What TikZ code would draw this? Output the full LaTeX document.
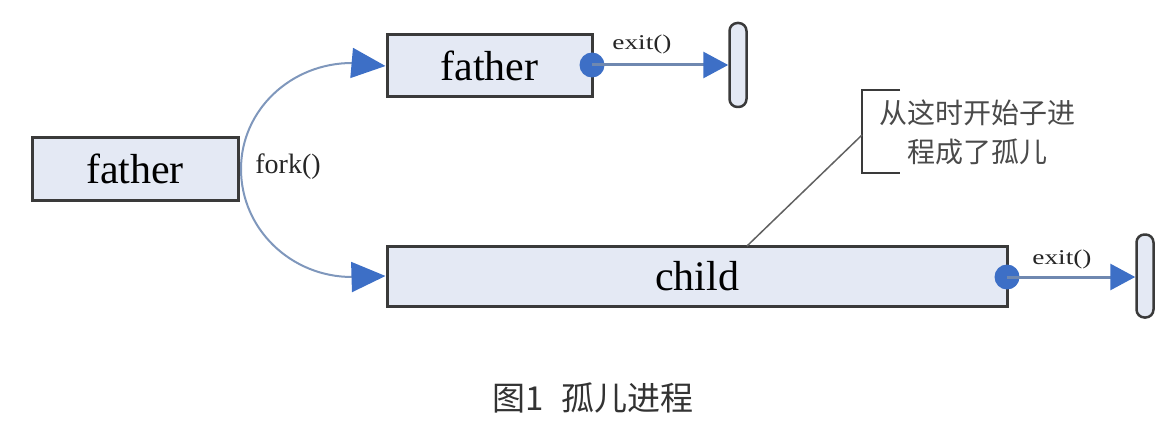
\documentclass[tikz,border=0pt]{standalone}
\usepackage{fontspec}
\setmainfont{Liberation Serif}
\newfontfamily\cjk{Noto Sans CJK SC}
\usetikzlibrary{arrows.meta}
\definecolor{boxfill}{HTML}{E4E9F4}
\definecolor{boxline}{HTML}{3A3A3A}
\definecolor{arrowblue}{HTML}{3D6FC6}
\definecolor{curveline}{HTML}{7F97BC}
\definecolor{exitcol}{HTML}{6F88B0}
\definecolor{calltext}{HTML}{4A4A4A}
\tikzset{
  procbox/.style={draw=boxline, fill=boxfill, line width=3pt, inner sep=0pt},
  procfont/.style={font=\fontsize{42}{44}\selectfont},
  forkline/.style={draw=curveline, line width=2pt, -{Triangle[length=34pt,width=30pt,color=arrowblue]}},
  exitarrow/.style={draw=exitcol, line width=3pt, -{Triangle[length=25pt,width=26pt,color=arrowblue]}},
  dotend/.style={circle, fill=arrowblue, minimum size=25pt, inner sep=0pt},
  capsule/.style={draw=boxline, fill=boxfill, line width=2.5pt, rounded corners=8pt, minimum width=17pt, minimum height=84pt, inner sep=0pt},
  smalllabel/.style={font=\fontsize{21}{22}\selectfont, xscale=1.3, text=black!85},
}
\begin{document}
\begin{tikzpicture}[x=1pt,y=-1pt]
\useasboundingbox (0,0) rectangle (1173,425);
% boxes
\node[procbox, procfont, minimum width=206pt, minimum height=62pt] (lf) at (135,169) {father};
\node[procbox, procfont, minimum width=205pt, minimum height=62pt] (tf) at (489.5,66) {father};
\node[procbox, procfont, minimum width=620pt, minimum height=60pt] (ch) at (697,276) {child};
% fork curves
\coordinate (fk) at (241,169);
\draw[forkline] (fk) .. controls (241,110) and (291,63) .. (352,63) -- (tf.west);
\draw[forkline] (fk) .. controls (241,229) and (291,277) .. (352,277) -- (ch.west);
\node[font=\fontsize{28}{30}\selectfont, text=black!85] (fl) at (288,167) {fork()};
% exits
\node[capsule] (cap1) at (738,65) {};
\node[capsule, minimum height=83pt] (cap2) at (1145,276) {};
\node[dotend] (d1) at (592,65) {};
\node[dotend] (d2) at (1007,277) {};
\draw[exitarrow] (d1.center) -- (cap1.west);
\draw[exitarrow] (d2.center) -- (cap2.west |- d2.center);
\node[smalllabel] (e1) at (642,44) {exit()};
\node[smalllabel] (e2) at (1062,259) {exit()};
% callout
\node[font=\cjk\fontsize{28}{39}\selectfont, text=calltext, align=center] (cl) at (977,132) {从这时开始子进\\程成了孤儿};
\coordinate (cb) at (862,135);
\coordinate (ct) at (747,246);
\draw[boxline, line width=2.5pt] (900,90) -- (862,90) -- (862,173) -- (900,173);
\draw[boxline!80, line width=1.5pt] (cb) -- (ct);
% caption
\node[font=\cjk\fontsize{33}{35}\selectfont, text=black!80] (cap) at (593,398) {图1\hspace{0.55em}孤儿进程};
\end{tikzpicture}
\end{document}
